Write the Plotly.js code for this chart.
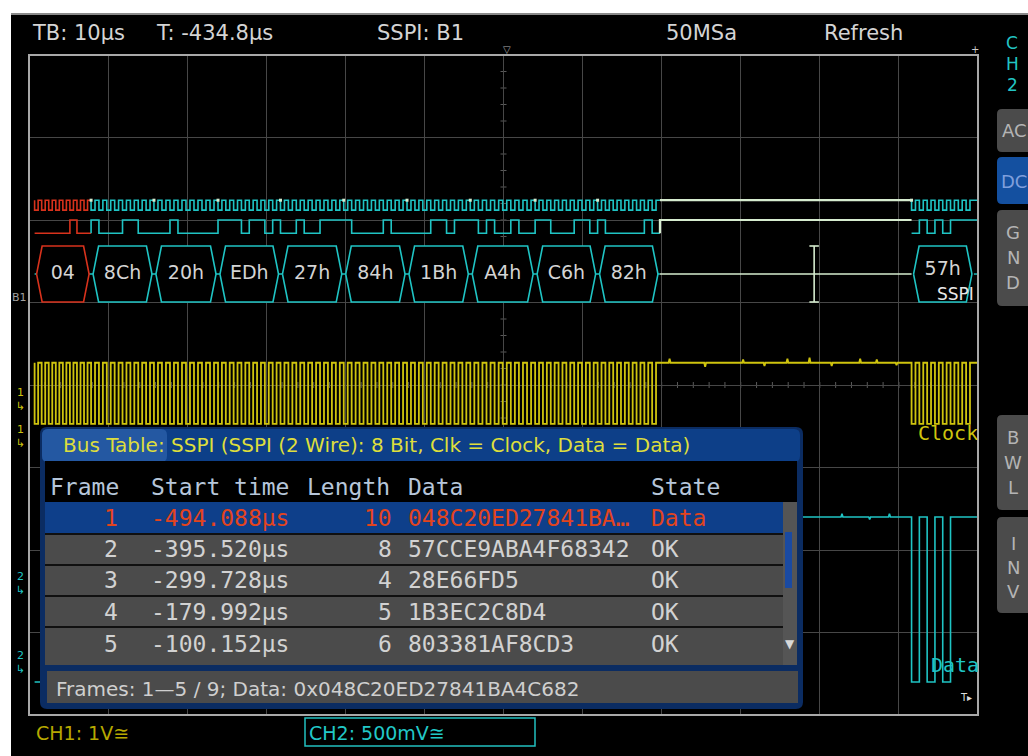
<!DOCTYPE html>
<html><head><meta charset="utf-8">
<script src="https://cdn.plot.ly/plotly-3.0.1.min.js"></script>
<style>html,body{margin:0;padding:0;background:#000;}#chart{width:1028px;height:756px;}</style>
</head><body><div id="chart"></div>
<script>
// ---------------- data ----------------
const timebaseUs = 10;            // TB: 10 µs/div
const triggerUs = -434.8;         // T: -434.8 µs (screen centre)
const frame1Bytes   = [0x04,0x8C,0x20,0xED,0x27,0x84,0x1B,0xA4,0xC6,0x82];
const frame1StartUs = [-494.09,-486.95,-479.0,-470.9,-463.0,-455.0,-447.0,-439.0,-430.8,-422.9];
const frame1Labels  = ["04","8Ch","20h","EDh","27h","84h","1Bh","A4h","C6h","82h"];
const frame2Bytes   = [0x57];
const frame2StartUs = [-383.2];
const frame2Labels  = ["57h"];
const bitPeriodUs   = 0.985;
const ch1GlitchUs   = [-413.8,-409.3,-404.5,-401.8,-398.9,-396.1,-393.3,-389.7,-387.6,-385.1];
const ch1GlitchDiv  = [0.05,-0.05,0.04,-0.04,0.05,0.06,-0.04,0.05,0.04,-0.03];
const ch2GlitchUs   = [-392.0,-388.5,-386.0];
const ch2GlitchDiv  = [0.04,-0.03,0.04];
const tblFrame  = ["1","2","3","4","5"];
const tblStart  = ["-494.088µs","-395.520µs","-299.728µs","-179.992µs","-100.152µs"];
const tblStartUs= [-494.088,-395.520,-299.728,-179.992,-100.152];
const tblLength = ["10","8","4","5","6"];
const tblData   = ["048C20ED27841BA…","57CCE9ABA4F68342","28E66FD5","1B3EC2C8D4","803381AF8CD3"];
const tblState  = ["Data","OK","OK","OK","OK"];
const tblHeader = ["Frame","Start time","Length","Data","State"];

// ---------------- geometry / style ----------------
const X0=29, X1=978, Y0=55, Y1=715;
const px = x => (x-X0)/(X1-X0);
const py = y => (Y1-y)/(Y1-Y0);
const xMin = triggerUs - 6*timebaseUs, xMax = triggerUs + 6*timebaseUs;
const COL = {cyan:'#1fc4c4', red:'#d8321c', pale:'#d6eccf', yellow:'#cfc40e', grid:'#474747', border:'#a8a8a8', txt:'#d4d4d4'};
const LV = {clkHi:6.24, clkLo:6.12, datHi:6.0, datLo:5.84, boxTop:5.685, boxBot:5.006, boxMid:5.345,
            ch1Hi:4.27, ch1Lo:3.53, ch2Hi:2.4, ch2Lo:0.4};

function ends(starts){ return starts.map((s,i)=> i<starts.length-1 ? starts[i+1] : s+8*bitPeriodUs); }
const f1End = ends(frame1StartUs), f2End = ends(frame2StartUs);
const f1Last = f1End[f1End.length-1], f2Last = f2End[f2End.length-1];

function clockWave(st,en,hi,lo){ const x=[],y=[];
  st.forEach((s,i)=>{ const bp=(en[i]-s)/8; for(let k=0;k<8;k++){ const t=s+k*bp; x.push(t,t,t+bp/2,t+bp/2); y.push(hi,lo,lo,hi);} x.push(en[i]); y.push(hi); });
  return {x,y}; }
function dataWave(bytes,st,en,hi,lo){ const x=[],y=[];
  bytes.forEach((b,i)=>{ const bp=(en[i]-st[i])/8; for(let k=0;k<8;k++){ const v=(b>>(7-k))&1; const t=st[i]+k*bp; x.push(t,t+bp); y.push(v?hi:lo, v?hi:lo);} });
  return {x,y}; }
function cat(...ws){ const x=[],y=[]; ws.forEach(w=>{x.push(...w.x);y.push(...w.y);}); return {x,y}; }
function idle(t0,t1,lvl,gt,gd){ const x=[t0],y=[lvl]; (gt||[]).forEach((g,i)=>{ x.push(g-0.12,g,g+0.12); y.push(lvl,lvl+gd[i],lvl); }); x.push(t1); y.push(lvl); return {x,y}; }

const traces=[];
function line(w,color,width,extra){ traces.push(Object.assign({type:'scatter',mode:'lines',x:w.x,y:w.y,line:{color,width,shape:'linear'},hoverinfo:'skip',showlegend:false},extra||{})); }

// ---- digital clock / data lines of the bus
const c0 = clockWave(frame1StartUs.slice(0,1), f1End.slice(0,1), LV.clkHi, LV.clkLo);
const cA = clockWave(frame1StartUs.slice(1), f1End.slice(1), LV.clkHi, LV.clkLo);
const cB = clockWave(frame2StartUs, f2End, LV.clkHi, LV.clkLo);
line(c0, COL.red, 1.6);
line(cat(cA,{x:[null],y:[null]},cB,{x:[f2Last,xMax],y:[LV.clkHi,LV.clkHi]}), COL.cyan, 1.6);
line({x:[f1Last,frame2StartUs[0]],y:[LV.clkHi,LV.clkHi]}, COL.pale, 2.2);
const d0 = dataWave(frame1Bytes.slice(0,1), frame1StartUs.slice(0,1), f1End.slice(0,1), LV.datHi, LV.datLo);
const dA = dataWave(frame1Bytes.slice(1), frame1StartUs.slice(1), f1End.slice(1), LV.datHi, LV.datLo);
const dB = dataWave(frame2Bytes, frame2StartUs, f2End, LV.datHi, LV.datLo);
line(d0, COL.red, 1.6);
line(cat({x:[f1End[0]],y:[d0.y[d0.y.length-1]]},dA,{x:[null],y:[null]},dB,{x:[xMax],y:[LV.datHi]}), COL.cyan, 1.6);
line({x:[f1Last,f1Last,frame2StartUs[0]],y:[LV.datLo,LV.datHi,LV.datHi]}, COL.pale, 2.2);
// byte boundary dots
{ const bs=frame1StartUs.slice(1).concat(frame2StartUs);
  traces.push({type:'scatter',mode:'markers',x:bs,y:bs.map(()=>LV.clkHi),marker:{color:COL.pale,size:3,symbol:'square'},hoverinfo:'skip',showlegend:false}); }

// ---- decode line
line({x:[frame1StartUs[0],f1Last],y:[LV.boxMid,LV.boxMid]}, COL.cyan, 1.4);
line({x:[f1Last,frame2StartUs[0]],y:[LV.boxMid,LV.boxMid]}, COL.pale, 1.6);
line({x:[f2Last,xMax],y:[LV.boxMid,LV.boxMid]}, COL.cyan, 1.4);
function hexes(st,en){ const x=[],y=[]; const pad=0.25,bev=0.7;
  st.forEach((s,i)=>{ const a=s+pad,b=en[i]-pad; x.push(a,a+bev,b-bev,b,b-bev,a+bev,a,null); y.push(LV.boxMid,LV.boxTop,LV.boxTop,LV.boxMid,LV.boxBot,LV.boxBot,LV.boxMid,null); });
  return {x,y}; }
const hRed = hexes(frame1StartUs.slice(0,1), f1End.slice(0,1));
const hCy  = cat(hexes(frame1StartUs.slice(1), f1End.slice(1)), hexes(frame2StartUs, f2End));
line(hRed, COL.red, 1.6, {fill:'toself', fillcolor:'#000'});
line(hCy, COL.cyan, 1.6, {fill:'toself', fillcolor:'#000'});
// frame-2 start marker (I cursor)
{ const t=tblStartUs[1]; line({x:[t,t,null,t-0.6,t+0.6,null,t-0.6,t+0.6],y:[LV.boxTop,LV.boxBot,null,LV.boxTop,LV.boxTop,null,LV.boxBot,LV.boxBot]}, COL.pale, 1.6); }
const allSt = frame1StartUs.concat(frame2StartUs), allEn = f1End.concat(f2End), allLab = frame1Labels.concat(frame2Labels);
traces.push({type:'scatter',mode:'text',x:allSt.map((s,i)=>(s+allEn[i])/2),y:allLab.map((l,i)=> i===allLab.length-1 ? LV.boxMid+0.05 : LV.boxMid),
  text:allLab,textposition:'middle center',textfont:{family:'DejaVu Sans',size:19,color:COL.txt},hoverinfo:'skip',showlegend:false,cliponaxis:false});

// ---- CH1 analog clock (yellow)
{ const w=cat(clockWave(frame1StartUs,f1End,LV.ch1Hi,LV.ch1Lo), idle(f1Last,frame2StartUs[0],LV.ch1Hi,ch1GlitchUs,ch1GlitchDiv),
              clockWave(frame2StartUs,f2End,LV.ch1Hi,LV.ch1Lo), {x:[xMax],y:[LV.ch1Hi]});
  line(w, COL.yellow, 1.8); }
// ---- CH2 analog data (cyan)
{ const a=dataWave(frame1Bytes,frame1StartUs,f1End,LV.ch2Hi,LV.ch2Lo);
  const w=cat(a, idle(f1Last,frame2StartUs[0],LV.ch2Hi,ch2GlitchUs,ch2GlitchDiv), dataWave(frame2Bytes,frame2StartUs,f2End,LV.ch2Hi,LV.ch2Lo), {x:[xMax],y:[LV.ch2Hi]});
  line(w, COL.cyan, 1.6); }

// ---------------- shapes (screen furniture) ----------------
const shapes=[];
function rect(x0,y0,x1,y1,fill,lc,lw,layer){ shapes.push({type:'rect',xref:'paper',yref:'paper',x0:px(x0),x1:px(x1),y0:py(y1),y1:py(y0),fillcolor:fill,line:{color:lc||'rgba(0,0,0,0)',width:lw||0},layer:layer||'above'}); }
function seg(x0,y0,x1,y1,c,w,layer){ shapes.push({type:'line',xref:'paper',yref:'paper',x0:px(x0),x1:px(x1),y0:py(y0),y1:py(y1),line:{color:c,width:w},layer:layer||'above'}); }
function rrect(x0,y0,x1,y1,r,fill,lc,lw){ const P=(x,y)=>px(x)+','+py(y);
  const d=`M ${P(x0+r,y0)} L ${P(x1-r,y0)} Q ${P(x1,y0)} ${P(x1,y0+r)} L ${P(x1,y1-r)} Q ${P(x1,y1)} ${P(x1-r,y1)} L ${P(x0+r,y1)} Q ${P(x0,y1)} ${P(x0,y1-r)} L ${P(x0,y0+r)} Q ${P(x0,y0)} ${P(x0+r,y0)} Z`;
  shapes.push({type:'path',xref:'paper',yref:'paper',path:d,fillcolor:fill,line:{color:lc||'rgba(0,0,0,0)',width:lw||0},layer:'above'}); }

// centre lines with minor ticks
const cx=(X0+X1)/2, cy=(Y0+Y1)/2;
for(let i=1;i<60;i++){ const x=X0+i*(X1-X0)/60; seg(x,cy-3,x,cy+3,'#5a5a5a',1,'below'); }
for(let i=1;i<40;i++){ const y=Y0+i*(Y1-Y0)/40; seg(cx-3,y,cx+3,y,'#5a5a5a',1,'below'); }
// border
rect(X0,Y0,X1,Y1,'rgba(0,0,0,0)',COL.border,2,'above');
// outer white strips
rect(0,0,1028,13,'#ffffff'); seg(11,14,1028,14,'#8a8a8a',2); rect(0,0,11,756,'#ffffff');

// bus table
rrect(40,427,803,709,7,'#0b2c62');
rrect(42,429,800,462,6,'#0d3f88');
rrect(42,429,167,462,6,'#2458a2');
rect(45,461,797,502,'#000000');
rect(45,502,783,533,'#0e3f8a');
rect(45,533,783,665,'#101010');
const rowTop=[535,566,597,628], rowBot=[564,595,626,665];
rowTop.forEach((t,i)=>rect(45,t,783,rowBot[i],'#4b4b4b'));
rect(783,502,797,665,'#555555');
rect(785,532,792,588,'#1a4aa2');
rect(47,671,798,703,'#4b4b4b');

// bottom CH2 box
rect(305,718,535,746,'#000000','#22c0c0',1.5);
// right buttons
rrect(997,109,1040,152,5,'#4b4b4b');
rrect(997,157,1040,204,5,'#1450a0');
rrect(997,210,1040,306,5,'#4b4b4b');
rrect(997,415,1040,510,5,'#4b4b4b');
rrect(997,517,1040,613,5,'#4b4b4b');

// ---------------- annotations ----------------
const ann=[];
function A(text,x,y,o){ o=o||{}; ann.push({xref:'paper',yref:'paper',x:px(x),y:py(y),text,showarrow:false,xanchor:o.xa||'left',yanchor:'middle',
  font:{family:o.f||'DejaVu Sans',size:o.s||18,color:o.c||COL.txt}}); }
// top status bar
A('TB: 10µs',30,33,{s:21}); A('T: -434.8µs',154,33,{s:21}); A('SSPI: B1',375,33,{s:21}); A('50MSa',664,33,{s:21}); A('Refresh',822,33,{s:21});
A('▽',507,49,{xa:'center',s:10,c:'#aaaaaa'}); A('+',975,49,{xa:'center',s:10,c:'#cccccc'});
// left markers
A('B1',19,297,{xa:'center',s:11,c:'#a0a0a0'});
A('1<br>↳',20,399,{xa:'center',s:11,c:COL.yellow}); A('1<br>↳',20,436,{xa:'center',s:11,c:COL.yellow});
A('2<br>↳',20,583,{xa:'center',s:11,c:COL.cyan}); A('2<br>↳',20,662,{xa:'center',s:11,c:COL.cyan});
// waveform labels
A('SSPI',976,294,{xa:'right',s:17,c:'#e8e8e8'});
A('Clock',980,433,{xa:'right',s:20,f:'DejaVu Sans Mono',c:COL.yellow});
A('Data',981,665,{xa:'right',s:20,f:'DejaVu Sans Mono',c:COL.cyan});
A('T▸',966,697,{xa:'center',s:10,c:'#dddddd'});
// bus table texts
A('Bus Table: SSPI (SSPI (2 Wire): 8 Bit, Clk = Clock, Data = Data)',61,445,{s:20,c:'#dede3c'});
const MONO='DejaVu Sans Mono', FS=23;
A(tblHeader[0],48,487,{f:MONO,s:FS,c:'#b6c6da'}); A(tblHeader[1],149,487,{f:MONO,s:FS,c:'#b6c6da'});
A(tblHeader[2],305,487,{f:MONO,s:FS,c:'#b6c6da'}); A(tblHeader[3],406,487,{f:MONO,s:FS,c:'#b6c6da'});
A(tblHeader[4],649,487,{f:MONO,s:FS,c:'#b6c6da'});
const rowY=[518,549,580,612,644];
tblFrame.forEach((v,i)=>{ const c = i===0 ? '#e2441e' : '#d2d2d2';
  A(v,120,rowY[i],{xa:'right',f:MONO,s:FS,c}); A(tblStart[i],149,rowY[i],{f:MONO,s:FS,c});
  A(tblLength[i],394,rowY[i],{xa:'right',f:MONO,s:FS,c}); A(tblData[i],406,rowY[i],{f:MONO,s:FS,c});
  A(tblState[i],649,rowY[i],{f:MONO,s:FS,c}); });
A('▼',790,644,{xa:'center',s:12,c:'#d8d8d8'});
A('Frames: 1—5 / 9; Data: 0x048C20ED27841BA4C682',54,689,{s:20,c:'#cfcfcf'});
// bottom bar
A('CH1: 1V≅',34,733,{s:19,c:'#b6a800'});
A('CH2: 500mV≅',307,733,{s:19,c:'#22c8c8'});
// right panel
[['C',43],['H',64],['2',85]].forEach(a=>A(a[0],1012,a[1],{xa:'center',s:17,c:'#22c4c4'}));
A('AC',1014,131,{xa:'center',s:18,c:'#b4b4b4'});
A('DC',1014,181,{xa:'center',s:18,c:'#7f9fdc'});
[['G',232],['N',257],['D',282],['B',437],['W',462],['L',487],['I',543],['N',567],['V',591]].forEach(a=>A(a[0],1013,a[1],{xa:'center',s:18,c:'#b4b4b4'}));

const layout={width:1028,height:756,autosize:false,margin:{l:X0,r:1028-X1,t:Y0,b:756-Y1,pad:0},
  paper_bgcolor:'#000',plot_bgcolor:'#000',showlegend:false,
  xaxis:{range:[xMin,xMax],tick0:xMin,dtick:timebaseUs,showgrid:true,gridcolor:COL.grid,gridwidth:1,zeroline:false,showticklabels:false,ticks:'',showline:false,fixedrange:true},
  yaxis:{range:[0,8],tick0:0,dtick:1,showgrid:true,gridcolor:COL.grid,gridwidth:1,zeroline:false,showticklabels:false,ticks:'',showline:false,fixedrange:true},
  shapes,annotations:ann,font:{family:'DejaVu Sans',color:COL.txt}};
Plotly.newPlot('chart',traces,layout,{staticPlot:true,displayModeBar:false});
</script></body></html>
